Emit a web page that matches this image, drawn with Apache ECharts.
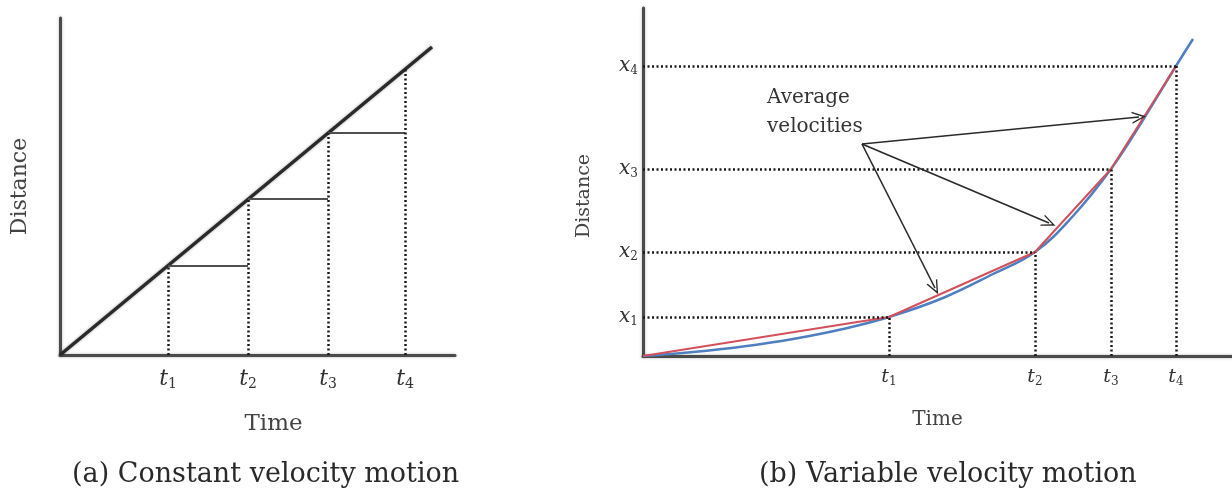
<!DOCTYPE html>
<html><head><meta charset="utf-8">
<script src="https://cdn.jsdelivr.net/npm/echarts@6/dist/echarts.min.js"></script>
<style>html,body{margin:0;padding:0;background:#fff}#c{width:1232px;height:489px}</style>
</head><body><div id="c"></div>
<script>
// ---- Panel (a): constant velocity motion ----
const aTimes = [108, 188, 268, 345];            // t1..t4 on the time axis
const aLevels = [89, 156, 222, 286];            // distance on the line at t1..t4
const aLine = [[0, 0], [372, 308]];             // straight distance-time line
const aTickNames = ['1', '2', '3', '4'];
// ---- Panel (b): variable velocity motion ----
const bTimes = [246, 392, 468, 533];            // t1..t4
const bLevels = [39, 104, 187, 290];            // x1..x4
const bCurve = [[0, 0], [50, 4], [100, 9.5], [150, 17], [200, 27], [246, 39], [300, 58], [350, 82],
                [392, 104], [430, 140], [468, 187], [500, 236], [533, 290], [550, 317]];
const bTickNames = ['1', '2', '3', '4'];
const noteText = 'Average\nvelocities';
const notePos = [124, 244];
const arrowFrom = [219, 212];
const arrowTo = [[496, 239], [406, 133], [292, 68]];

const SERIF = '"DejaVu Serif", "Liberation Serif", serif';
const axisLineStyle = {color: '#4a4a4a', width: 3, shadowBlur: 3, shadowColor: 'rgba(0,0,0,0.3)'};
const dotStyle = {type: [2, 2.5], color: '#1a1a1a', width: 2.5};

function subLabel(sizes) {
  return {
    fontFamily: SERIF, color: '#333',
    rich: {
      v: {fontFamily: SERIF, fontStyle: 'italic', fontSize: sizes[0], lineHeight: sizes[0] + 2, color: '#333'},
      s: {fontFamily: SERIF, fontSize: sizes[1], lineHeight: sizes[1], verticalAlign: 'bottom', color: '#333'}
    }
  };
}

const chart = echarts.init(document.getElementById('c'), null, {renderer: 'canvas'});

const aChords = aTimes.slice(0, 3).map((t, i) => [
  {coord: [t, aLevels[i]], lineStyle: {type: 'solid', color: '#505050', width: 2}},
  {coord: [aTimes[i + 1], aLevels[i]]}
]);
const aDrops = aTimes.map((t, i) => [
  {coord: [t, 0], lineStyle: dotStyle}, {coord: [t, aLevels[i]]}
]);
const bH = bTimes.map((t, i) => [{coord: [0, bLevels[i]], lineStyle: dotStyle}, {coord: [t, bLevels[i]]}]);
const bV = bTimes.map((t, i) => [{coord: [t, 0], lineStyle: dotStyle}, {coord: [t, bLevels[i]]}]);
const bChordData = [[0, 0]].concat(bTimes.map((t, i) => [t, bLevels[i]]));
const arrows = arrowTo.map(p => [{coord: arrowFrom}, {coord: p}]);

const capStyle = {fontFamily: SERIF, fontSize: 27, fontWeight: 'normal', color: '#2a2a2a'};
const option = {
  backgroundColor: '#fff',
  animation: false,
  title: [
    {text: '(a) Constant velocity motion', left: 67, top: 456, textStyle: capStyle},
    {text: '(b) Variable velocity motion', left: 754, top: 456, textStyle: capStyle}
  ],
  grid: [
    {left: 60, top: 18, width: 395, height: 337},
    {left: 643, top: 8, width: 589, height: 348}
  ],
  xAxis: [
    {type: 'value', gridIndex: 0, min: 0, max: 395,
     name: 'Time', nameLocation: 'middle', nameGap: 58,
     nameTextStyle: {fontFamily: SERIF, fontSize: 23, color: '#444', padding: [0, 0, 0, 32]},
     axisLine: {show: true, lineStyle: axisLineStyle}, axisTick: {show: false}, splitLine: {show: false},
     axisLabel: Object.assign(subLabel([22, 14]), {
       customValues: aTimes, margin: 12,
       formatter: v => '{v|t}{s|' + aTickNames[aTimes.indexOf(v)] + '}'
     })},
    {type: 'value', gridIndex: 1, min: 0, max: 589,
     name: 'Time', nameLocation: 'middle', nameGap: 54,
     nameTextStyle: {fontFamily: SERIF, fontSize: 20, color: '#444'},
     axisLine: {show: true, lineStyle: axisLineStyle}, axisTick: {show: false}, splitLine: {show: false},
     axisLabel: Object.assign(subLabel([19, 12]), {
       customValues: bTimes, margin: 11,
       formatter: v => '{v|t}{s|' + bTickNames[bTimes.indexOf(v)] + '}'
     })}
  ],
  yAxis: [
    {type: 'value', gridIndex: 0, min: 0, max: 337,
     name: 'Distance', nameLocation: 'middle', nameGap: 29,
     nameTextStyle: {fontFamily: SERIF, fontSize: 22, color: '#444'},
     axisLine: {show: true, lineStyle: axisLineStyle}, axisTick: {show: false}, splitLine: {show: false},
     axisLabel: {show: false}},
    {type: 'value', gridIndex: 1, min: 0, max: 348,
     name: 'Distance', nameLocation: 'middle', nameGap: 49,
     nameTextStyle: {fontFamily: SERIF, fontSize: 19, color: '#444', padding: [0, 28, 0, 0]},
     axisLine: {show: true, lineStyle: axisLineStyle}, axisTick: {show: false}, splitLine: {show: false},
     axisLabel: Object.assign(subLabel([20, 12]), {
       customValues: bLevels, margin: 5,
       formatter: v => '{v|x}{s|' + bTickNames[bLevels.indexOf(v)] + '}'
     })}
  ],
  series: [
    {type: 'line', xAxisIndex: 0, yAxisIndex: 0, data: aLine, symbol: 'none', silent: true,
     lineStyle: {color: '#2a2a2a', width: 3.5, shadowBlur: 3, shadowColor: 'rgba(0,0,0,0.35)'},
     markLine: {silent: true, symbol: ['none', 'none'], label: {show: false}, data: aChords.concat(aDrops)}},
    {type: 'line', xAxisIndex: 1, yAxisIndex: 1, data: bCurve, symbol: 'none', smooth: 0.4, silent: true,
     lineStyle: {color: '#4f7fc0', width: 2.5},
     markLine: {silent: true, symbol: ['none', 'none'], label: {show: false}, data: bH.concat(bV)}},
    {type: 'line', xAxisIndex: 1, yAxisIndex: 1, data: bChordData, symbol: 'none', silent: true,
     lineStyle: {color: '#d2505c', width: 2},
     markLine: {silent: true,
       symbol: ['none', 'path://M0,12 L5,0 L10,12 L8.8,12 L5,3 L1.2,12 Z'], symbolSize: [12, 14],
       label: {show: false},
       lineStyle: {type: 'solid', color: '#2a2a2a', width: 1.6},
       data: arrows},
     markPoint: {silent: true, symbol: 'circle', symbolSize: 0,
       data: [{coord: notePos, label: {show: true, position: 'right', distance: 0, align: 'left',
         formatter: noteText, fontFamily: SERIF, fontSize: 20, lineHeight: 29, color: '#333'}}]}}
  ]
};
chart.setOption(option);
</script>
</body></html>
